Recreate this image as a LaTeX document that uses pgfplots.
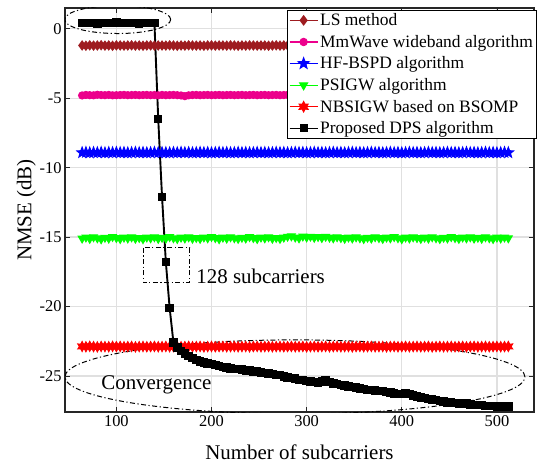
\documentclass[border=0pt]{standalone}
\usepackage{fontspec}
\setmainfont{Liberation Serif}
\usepackage{pgfplots}
\usepackage{pgfplotstable}
\pgfplotsset{compat=1.18}
\usetikzlibrary{plotmarks}

\definecolor{lsred}{RGB}{158,28,32}
\definecolor{mgreen}{RGB}{0,255,0}

% filled five-pointed star (MATLAB 'p')
\pgfdeclareplotmark{fstar}{%
  \pgfpathmoveto{\pgfpointpolar{90}{\pgfplotmarksize}}%
  \pgfpathlineto{\pgfpointpolar{126}{0.42\pgfplotmarksize}}%
  \pgfpathlineto{\pgfpointpolar{162}{\pgfplotmarksize}}%
  \pgfpathlineto{\pgfpointpolar{198}{0.42\pgfplotmarksize}}%
  \pgfpathlineto{\pgfpointpolar{234}{\pgfplotmarksize}}%
  \pgfpathlineto{\pgfpointpolar{270}{0.42\pgfplotmarksize}}%
  \pgfpathlineto{\pgfpointpolar{306}{\pgfplotmarksize}}%
  \pgfpathlineto{\pgfpointpolar{342}{0.42\pgfplotmarksize}}%
  \pgfpathlineto{\pgfpointpolar{18}{\pgfplotmarksize}}%
  \pgfpathlineto{\pgfpointpolar{54}{0.42\pgfplotmarksize}}%
  \pgfpathclose\pgfusepathqfillstroke}
% filled six-pointed star (MATLAB 'h')
\pgfdeclareplotmark{hstar}{%
  \pgfpathmoveto{\pgfpointpolar{90}{\pgfplotmarksize}}%
  \pgfpathlineto{\pgfpointpolar{120}{0.55\pgfplotmarksize}}%
  \pgfpathlineto{\pgfpointpolar{150}{\pgfplotmarksize}}%
  \pgfpathlineto{\pgfpointpolar{180}{0.55\pgfplotmarksize}}%
  \pgfpathlineto{\pgfpointpolar{210}{\pgfplotmarksize}}%
  \pgfpathlineto{\pgfpointpolar{240}{0.55\pgfplotmarksize}}%
  \pgfpathlineto{\pgfpointpolar{270}{\pgfplotmarksize}}%
  \pgfpathlineto{\pgfpointpolar{300}{0.55\pgfplotmarksize}}%
  \pgfpathlineto{\pgfpointpolar{330}{\pgfplotmarksize}}%
  \pgfpathlineto{\pgfpointpolar{0}{0.55\pgfplotmarksize}}%
  \pgfpathlineto{\pgfpointpolar{30}{\pgfplotmarksize}}%
  \pgfpathlineto{\pgfpointpolar{60}{0.55\pgfplotmarksize}}%
  \pgfpathclose\pgfusepathqfillstroke}

\pgfplotstableread{
x   ls    mm    hf    ps     nb     dps
64  -1.20 -4.80 -8.92 -15.10 -22.88 0.42
68  -1.22 -4.76 -8.90 -15.02 -22.90 0.41
72  -1.19 -4.78 -8.93 -15.12 -22.87 0.43
76  -1.21 -4.79 -8.91 -15.00 -22.89 0.42
80  -1.20 -4.75 -8.92 -15.08 -22.91 0.40
84  -1.18 -4.77 -8.90 -15.15 -22.88 0.42
88  -1.21 -4.78 -8.93 -15.04 -22.89 0.43
92  -1.20 -4.76 -8.91 -15.10 -22.90 0.41
96  -1.22 -4.79 -8.92 -14.98 -22.87 0.42
100 -1.19 -4.78 -8.90 -15.06 -22.89 0.44
104 -1.20 -4.77 -8.92 -15.13 -22.88 0.42
108 -1.21 -4.76 -8.91 -15.03 -22.90 0.41
112 -1.20 -4.78 -8.93 -15.09 -22.89 0.42
116 -1.19 -4.77 -8.92 -15.01 -22.88 0.43
120 -1.21 -4.76 -8.90 -15.11 -22.91 0.42
124 -1.20 -4.78 -8.92 -15.05 -22.89 0.40
128 -1.22 -4.77 -8.91 -15.14 -22.88 0.42
132 -1.20 -4.76 -8.93 -15.02 -22.90 0.41
136 -1.19 -4.78 -8.92 -15.08 -22.89 0.43
140 -1.21 -4.77 -8.90 -15.00 -22.88 0.42
144 -1.20 -4.79 -8.92 -15.12 -22.90 -6.50
148 -1.20 -4.76 -8.91 -15.04 -22.89 -12.10
152 -1.21 -4.78 -8.92 -15.10 -22.88 -16.80
156 -1.19 -4.77 -8.93 -14.99 -22.90 -20.10
160 -1.20 -4.76 -8.91 -15.07 -22.89 -22.60
164 -1.22 -4.78 -8.92 -15.13 -22.88 -22.95
168 -1.20 -4.80 -8.90 -15.03 -22.90 -23.20
172 -1.21 -4.85 -8.92 -15.09 -22.89 -23.40
176 -1.19 -4.79 -8.91 -15.01 -22.88 -23.55
180 -1.20 -4.77 -8.93 -15.11 -22.90 -23.70
184 -1.21 -4.76 -8.92 -15.05 -22.89 -23.85
188 -1.20 -4.78 -8.90 -15.12 -22.88 -23.95
192 -1.22 -4.77 -8.92 -15.02 -22.91 -24.05
196 -1.20 -4.76 -8.91 -15.08 -22.89 -24.10
200 -1.19 -4.78 -8.93 -14.98 -22.88 -24.15
204 -1.21 -4.77 -8.92 -15.06 -22.90 -24.20
208 -1.20 -4.76 -8.90 -15.14 -22.89 -24.30
212 -1.20 -4.78 -8.92 -15.03 -22.88 -24.35
216 -1.21 -4.77 -8.91 -15.10 -22.90 -24.40
220 -1.19 -4.76 -8.93 -15.00 -22.89 -24.45
224 -1.20 -4.78 -8.92 -15.07 -22.88 -24.50
228 -1.22 -4.77 -8.90 -15.12 -22.90 -24.50
232 -1.20 -4.76 -8.92 -15.04 -22.89 -24.55
236 -1.21 -4.78 -8.91 -15.09 -22.88 -24.60
240 -1.19 -4.77 -8.93 -14.99 -22.91 -24.62
244 -1.20 -4.76 -8.92 -15.06 -22.89 -24.68
248 -1.21 -4.78 -8.90 -15.13 -22.88 -24.70
252 -1.20 -4.77 -8.92 -15.02 -22.90 -24.75
256 -1.20 -4.76 -8.91 -15.08 -22.89 -24.80
260 -1.22 -4.78 -8.93 -15.00 -22.88 -24.82
264 -1.20 -4.77 -8.92 -15.11 -22.90 -24.88
268 -1.19 -4.76 -8.90 -15.05 -22.89 -24.92
272 -1.21 -4.78 -8.92 -15.12 -22.88 -24.95
276 -1.20 -4.77 -8.91 -15.03 -22.90 -25.05
280 -1.20 -4.76 -8.93 -14.96 -22.89 -25.10
284 -1.21 -4.78 -8.92 -14.94 -22.88 -25.15
288 -1.19 -4.77 -8.90 -15.02 -22.90 -25.20
292 -1.20 -4.76 -8.92 -15.08 -22.89 -25.30
296 -1.22 -4.78 -8.91 -14.95 -22.88 -25.30
300 -1.20 -4.77 -8.93 -15.02 -22.91 -25.35
304 -1.21 -4.76 -8.92 -14.96 -22.89 -25.40
308 -1.19 -4.78 -8.90 -15.04 -22.88 -25.45
312 -1.20 -4.77 -8.92 -14.98 -22.90 -25.50
316 -1.20 -4.76 -8.91 -15.06 -22.89 -25.40
320 -1.21 -4.78 -8.93 -14.97 -22.88 -25.30
324 -1.20 -4.77 -8.92 -15.03 -22.90 -25.45
328 -1.19 -4.76 -8.90 -15.08 -22.89 -25.55
332 -1.21 -4.78 -8.92 -15.00 -22.88 -25.60
336 -1.20 -4.77 -8.91 -15.06 -22.90 -25.65
340 -1.22 -4.76 -8.93 -15.11 -22.89 -25.70
344 -1.20 -4.78 -8.92 -15.02 -22.88 -25.75
348 -1.19 -4.77 -8.90 -15.09 -22.91 -25.80
352 -1.21 -4.76 -8.92 -15.01 -22.89 -25.85
356 -1.20 -4.78 -8.91 -15.07 -22.88 -25.90
360 -1.20 -4.77 -8.93 -15.13 -22.90 -25.95
364 -1.21 -4.76 -8.92 -15.04 -22.89 -26.00
368 -1.19 -4.78 -8.90 -15.10 -22.88 -26.00
372 -1.20 -4.77 -8.92 -15.00 -22.90 -26.05
376 -1.22 -4.76 -8.91 -15.06 -22.89 -26.10
380 -1.20 -4.78 -8.93 -15.12 -22.88 -26.10
384 -1.21 -4.77 -8.92 -15.03 -22.91 -26.15
388 -1.19 -4.76 -8.90 -15.08 -22.89 -26.20
392 -1.20 -4.78 -8.92 -14.99 -22.88 -26.25
396 -1.20 -4.77 -8.91 -15.07 -22.90 -26.30
400 -1.21 -4.76 -8.93 -15.14 -22.89 -26.30
404 -1.20 -4.78 -8.92 -15.02 -22.88 -26.28
408 -1.19 -4.77 -8.90 -15.09 -22.90 -26.30
412 -1.21 -4.76 -8.92 -15.01 -22.89 -26.40
416 -1.20 -4.78 -8.91 -15.06 -22.88 -26.50
420 -1.22 -4.77 -8.93 -15.12 -22.90 -26.55
424 -1.20 -4.76 -8.92 -15.03 -22.89 -26.60
428 -1.19 -4.78 -8.90 -15.10 -22.88 -26.65
432 -1.21 -4.77 -8.92 -15.00 -22.91 -26.70
436 -1.20 -4.76 -8.91 -15.07 -22.89 -26.75
440 -1.20 -4.78 -8.93 -15.13 -22.88 -26.80
444 -1.21 -4.77 -8.92 -15.04 -22.90 -26.85
448 -1.19 -4.76 -8.90 -15.09 -22.89 -26.90
452 -1.20 -4.78 -8.92 -14.99 -22.88 -26.90
456 -1.22 -4.77 -8.91 -15.06 -22.90 -26.95
460 -1.20 -4.76 -8.93 -15.12 -22.89 -27.00
464 -1.21 -4.78 -8.92 -15.02 -22.88 -26.95
468 -1.19 -4.77 -8.90 -15.08 -22.91 -27.00
472 -1.20 -4.76 -8.92 -15.01 -22.89 -27.05
476 -1.20 -4.78 -8.91 -15.10 -22.88 -27.10
480 -1.21 -4.77 -8.93 -15.04 -22.90 -27.10
484 -1.20 -4.76 -8.92 -15.11 -22.89 -27.10
488 -1.19 -4.78 -8.90 -15.00 -22.88 -27.15
492 -1.21 -4.77 -8.92 -15.07 -22.90 -27.15
496 -1.20 -4.76 -8.91 -15.13 -22.89 -27.15
500 -1.22 -4.78 -8.93 -15.03 -22.88 -27.20
504 -1.20 -4.77 -8.92 -15.09 -22.90 -27.20
508 -1.19 -4.76 -8.90 -15.02 -22.89 -27.20
512 -1.21 -4.78 -8.92 -15.08 -22.88 -27.20
}\nmsedata

\tikzset{mdashdot/.style={line width=1bp, dash pattern=on 5bp off 2.5bp on 1.2bp off 2.5bp}}

\begin{document}
\begin{tikzpicture}
\begin{axis}[
    width=469bp, height=404bp, scale only axis,
    xmin=46, xmax=539, ymin=-27.6, ymax=1.5,
    xtick={100,200,300,400,500},
    ytick={-25,-20,-15,-10,-5,0},
    grid=major,
    major grid style={line width=1.2bp, black!12},
    axis line style={line width=1.1bp, black!85},
    tick style={line width=0.8bp, black!85},
    major tick length=5bp,
    /pgf/number format/assume math mode=true,
    tick label style={font=\fontsize{16.5}{18}\selectfont},
    label style={font=\fontsize{21}{23}\selectfont},
    xlabel={Number of subcarriers},
    xlabel style={yshift=-11bp},
    ylabel={NMSE (dB)},
    ylabel style={yshift=-3bp},
    legend cell align=left,
    legend style={at={(rel axis cs:1.006,0.996)}, anchor=north east,
        draw=black, line width=1bp, fill=white,
        font=\fontsize{17.5}{20}\selectfont,
        inner sep=1.5bp, row sep=4bp},
    legend image code/.code={%
        \draw[mark repeat=2, mark phase=2, line width=1.2bp]
            plot coordinates {(0bp,0bp) (14bp,0bp) (28bp,0bp)};},
]
\addplot[lsred, line width=1bp, mark=diamond*, mark size=4.5bp,
    mark options={solid, fill=lsred}] table[x=x, y=ls] {\nmsedata};
\addlegendentry{LS method}
\addplot[magenta, line width=1bp, mark=*, mark size=3.6bp,
    mark options={solid, fill=magenta}] table[x=x, y=mm] {\nmsedata};
\addlegendentry{MmWave wideband algorithm}
\addplot[blue, line width=1bp, mark=fstar, mark size=5.5bp,
    mark options={solid, fill=blue}] table[x=x, y=hf] {\nmsedata};
\addlegendentry{HF-BSPD algorithm}
\addplot[mgreen, line width=1bp, mark=triangle*, mark size=4.5bp,
    mark options={solid, fill=mgreen, rotate=180}] table[x=x, y=ps] {\nmsedata};
\addlegendentry{PSIGW algorithm}
\addplot[red, line width=1bp, mark=hstar, mark size=5bp,
    mark options={solid, fill=red}] table[x=x, y=nb] {\nmsedata};
\addlegendentry{NBSIGW based on BSOMP}
\addplot[black, line width=1.9bp, mark=square*, mark size=3.3bp,
    mark options={solid, fill=black}] table[x=x, y=dps] {\nmsedata};
\addlegendentry{Proposed DPS algorithm}

% annotations
\draw[mdashdot] (axis cs:101.4,0.67) ellipse [x radius=53bp, y radius=14bp];
\draw[mdashdot] (axis cs:287.7,-25.07) ellipse [x radius=230bp, y radius=37bp];
\draw[mdashdot] (axis cs:128,-15.78) rectangle (axis cs:177.2,-18.3);
\node[anchor=base west, inner sep=0pt, font=\fontsize{21}{23}\selectfont]
    at (axis cs:184,-18.35) {128 subcarriers};
\node[anchor=base west, inner sep=0pt, font=\fontsize{21}{23}\selectfont]
    at (axis cs:84,-26.0) {Convergence};
\end{axis}
\path (current axis.south west) ++(-65bp,-49bp) rectangle ++(542bp,461bp);
\end{tikzpicture}
\end{document}
